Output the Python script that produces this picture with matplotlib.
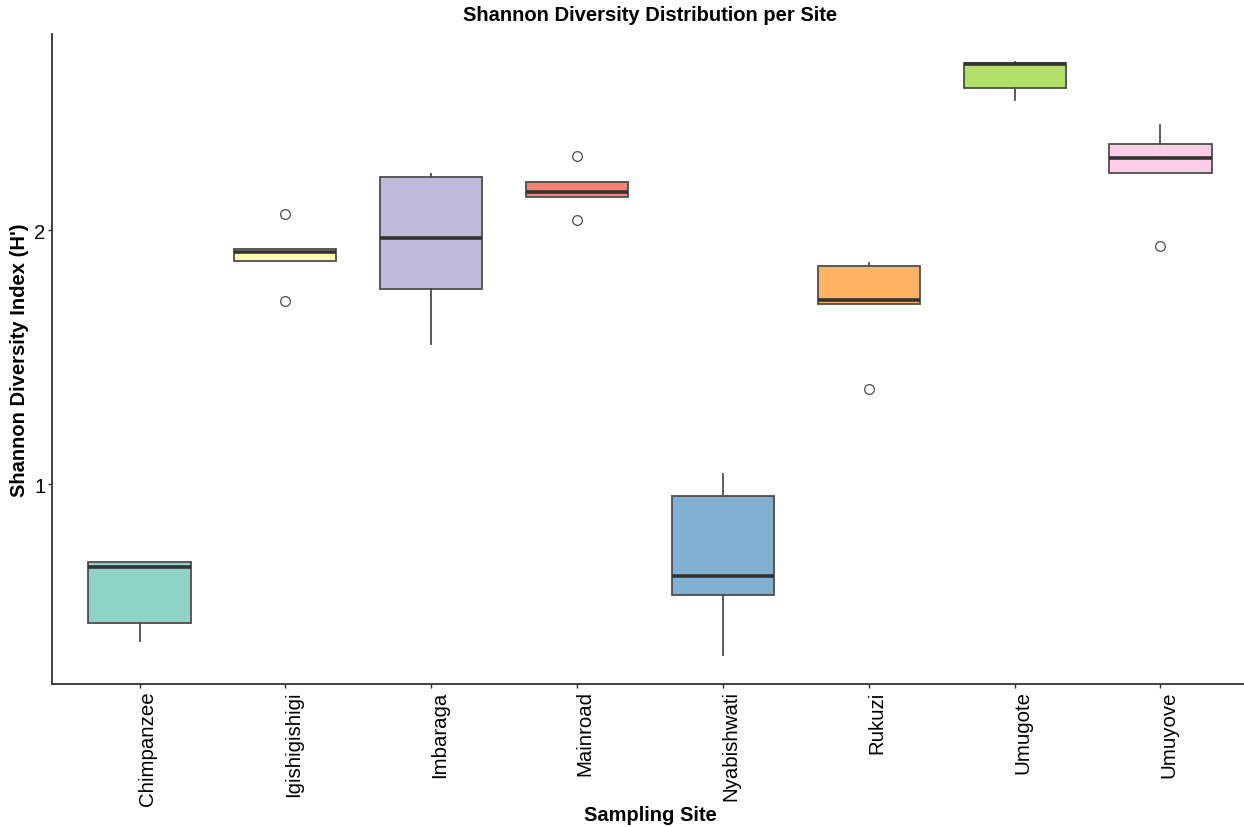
import matplotlib.pyplot as plt
import matplotlib.transforms as mtransforms
import numpy as np

plt.rcParams['font.family'] = ['Liberation Sans', 'DejaVu Sans']

# Box statistics
sites = ['Chimpanzee', 'Igishigishigi', 'Imbaraga', 'Mainroad',
         'Nyabishwati', 'Rukuzi', 'Umugote', 'Umuyove']
q1 = [0.453, 1.878, 1.768, 2.130, 0.563, 1.709, 2.559, 2.224]
med = [0.673, 1.913, 1.969, 2.150, 0.638, 1.724, 2.654, 2.283]
q3 = [0.693, 1.925, 2.209, 2.189, 0.953, 1.858, 2.657, 2.339]
whislo = [0.382, 1.878, 1.551, 2.130, 0.327, 1.709, 2.512, 2.224]
whishi = [0.693, 1.925, 2.220, 2.189, 1.039, 1.870, 2.661, 2.413]
outliers = [[], [2.063, 1.720], [], [2.291, 2.039], [], [1.374], [], [1.937]]
colors = ['#8DD3C7', '#FFFFB3', '#BEBADA', '#FB8072',
          '#80B1D3', '#FDB462', '#B3DE69', '#FCCDE5']

stats = []
for i, s in enumerate(sites):
    stats.append(dict(label=s, q1=q1[i], med=med[i], q3=q3[i],
                      whislo=whislo[i], whishi=whishi[i], fliers=outliers[i]))

fig = plt.figure(figsize=(12.44, 8.28), dpi=100)
ax = fig.add_axes([0.0418, 0.1727, 0.9614, 0.785])

edge = '#4d4d4d'
bp = ax.bxp(stats, positions=np.arange(1, 9), widths=0.7, patch_artist=True,
            showcaps=False,
            boxprops=dict(edgecolor=edge, linewidth=1.3),
            medianprops=dict(color='#333333', linewidth=2.6),
            whiskerprops=dict(color=edge, linewidth=1.3),
            flierprops=dict(marker='o', markerfacecolor='white',
                            markeredgecolor=edge, markersize=7,
                            markeredgewidth=0.9))
for patch, c in zip(bp['boxes'], colors):
    patch.set_facecolor(c)

ax.set_xlim(0.4, 8.6)
ax.set_ylim(0.2126, 2.772)
ax.set_yticks([1, 2])
ax.set_yticklabels(['1', '2'])
ax.set_xticks(np.arange(1, 9))

ax.spines['top'].set_visible(False)
ax.spines['right'].set_visible(False)
for sp in ['left', 'bottom']:
    ax.spines[sp].set_color('#333333')
    ax.spines[sp].set_linewidth(1.3)
ax.tick_params(axis='both', length=3, width=1, color='#333333',
               labelsize=14.7, labelcolor='black', pad=1.5)

ax.set_xticklabels(sites, rotation=90, ha='center', va='top')
# nudge rotated labels right a bit, like ggplot's vjust=0.5
shift = mtransforms.ScaledTranslation(8 / 100, 0, fig.dpi_scale_trans)
for tick in ax.xaxis.get_major_ticks():
    tick.label1.set_transform(tick.label1.get_transform() + shift)

ax.set_title('Shannon Diversity Distribution per Site', fontsize=14.5,
             fontweight='bold', pad=10)
ax.set_xlabel('Sampling Site', fontsize=14.5, fontweight='bold', va='center')
ax.xaxis.set_label_coords(0.5, -0.2015)
ax.set_ylabel("Shannon Diversity Index (H')", fontsize=14.5,
              fontweight='bold', va='center')
ax.yaxis.set_label_coords(-0.0268, 0.5)

fig.savefig('out.png', dpi=100)
